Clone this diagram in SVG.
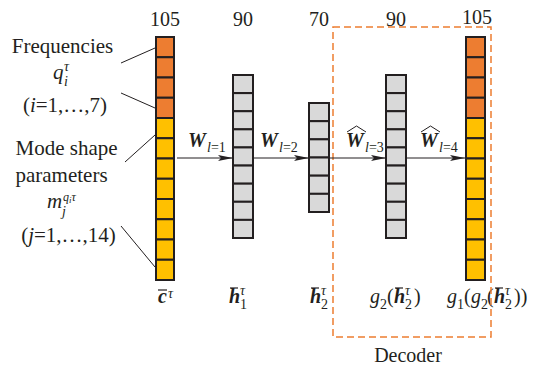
<svg xmlns="http://www.w3.org/2000/svg" width="537" height="368" viewBox="0 0 537 368">
<style>
text{fill:#231f20}
.t{font-size:20px}
.l{font-size:21px}
.it{font-style:italic}
.b{font-weight:bold;font-style:italic}
.s{font-size:14px}
.ss{font-size:12px}
.o{fill:#ED7D31;stroke:#231f20;stroke-width:2}
.y{fill:#FFC000;stroke:#231f20;stroke-width:2}
.g{fill:#D9D9D9;stroke:#231f20;stroke-width:2}
.ln{stroke:#231f20;stroke-width:1;fill:none}
.bar{stroke:#231f20;stroke-width:1.2}
</style>
<defs>
<marker id="ah" markerUnits="userSpaceOnUse" markerWidth="16" markerHeight="8" refX="15" refY="4" orient="auto">
<path d="M0,1 L15,4 L0,7 L3,4 Z" fill="#231f20"/>
</marker>
</defs>
<g font-family="Liberation Serif, DejaVu Serif, serif">
<g id="input-vector">
<rect class="o" x="156" y="37" width="18" height="20.25"/>
<rect class="o" x="156" y="57.25" width="18" height="20.25"/>
<rect class="o" x="156" y="77.5" width="18" height="20.25"/>
<rect class="o" x="156" y="97.75" width="18" height="20.25"/>
<rect class="y" x="156" y="118" width="18" height="20.25"/>
<rect class="y" x="156" y="138.25" width="18" height="20.25"/>
<rect class="y" x="156" y="158.5" width="18" height="20.25"/>
<rect class="y" x="156" y="178.75" width="18" height="20.25"/>
<rect class="y" x="156" y="199" width="18" height="20.25"/>
<rect class="y" x="156" y="219.25" width="18" height="20.25"/>
<rect class="y" x="156" y="239.5" width="18" height="20.25"/>
<rect class="y" x="156" y="259.75" width="18" height="20.25"/>
<text class="t" x="165" y="26" text-anchor="middle">105</text>
<text class="b t" x="158" y="303">c</text>
<line class="bar" x1="158" y1="290" x2="167" y2="290"/>
<text class="it s" x="168" y="298">τ</text>
</g>

<g id="h1">
<rect class="g" x="233" y="75" width="20" height="18.11"/>
<rect class="g" x="233" y="93.11" width="20" height="18.11"/>
<rect class="g" x="233" y="111.22" width="20" height="18.11"/>
<rect class="g" x="233" y="129.33" width="20" height="18.11"/>
<rect class="g" x="233" y="147.44" width="20" height="18.11"/>
<rect class="g" x="233" y="165.56" width="20" height="18.11"/>
<rect class="g" x="233" y="183.67" width="20" height="18.11"/>
<rect class="g" x="233" y="201.78" width="20" height="18.11"/>
<rect class="g" x="233" y="219.89" width="20" height="18.11"/>
<text class="t" x="243" y="26" text-anchor="middle">90</text>
<text class="b t" x="229" y="303">h</text>
<line class="bar" x1="230" y1="288" x2="238" y2="288"/>
<text class="s" x="240" y="309">1</text>
<text class="it s" x="240" y="295">τ</text>
</g>

<g id="h2">
<rect class="g" x="309" y="103" width="20" height="18.17"/>
<rect class="g" x="309" y="121.17" width="20" height="18.17"/>
<rect class="g" x="309" y="139.33" width="20" height="18.17"/>
<rect class="g" x="309" y="157.5" width="20" height="18.17"/>
<rect class="g" x="309" y="175.67" width="20" height="18.17"/>
<rect class="g" x="309" y="193.83" width="20" height="18.17"/>
<text class="t" x="319" y="26" text-anchor="middle">70</text>
<text class="b t" x="310" y="303">h</text>
<line class="bar" x1="311" y1="288" x2="319" y2="288"/>
<text class="s" x="321" y="309">2</text>
<text class="it s" x="321" y="295">τ</text>
</g>

<g id="g2">
<rect class="g" x="386" y="75" width="20" height="18.11"/>
<rect class="g" x="386" y="93.11" width="20" height="18.11"/>
<rect class="g" x="386" y="111.22" width="20" height="18.11"/>
<rect class="g" x="386" y="129.33" width="20" height="18.11"/>
<rect class="g" x="386" y="147.44" width="20" height="18.11"/>
<rect class="g" x="386" y="165.56" width="20" height="18.11"/>
<rect class="g" x="386" y="183.67" width="20" height="18.11"/>
<rect class="g" x="386" y="201.78" width="20" height="18.11"/>
<rect class="g" x="386" y="219.89" width="20" height="18.11"/>
<text class="t" x="396" y="26" text-anchor="middle">90</text>
<text class="it t" x="370" y="303">g</text>
<text class="s" x="380" y="309">2</text>
<text class="t" x="387" y="303">(</text>
<text class="b t" x="394" y="303">h</text>
<line class="bar" x1="395" y1="288" x2="403" y2="288"/>
<text class="s" x="405" y="309">2</text>
<text class="it s" x="405" y="295">τ</text>
<text class="t" x="414" y="303">)</text>
</g>

<g id="output-vector">
<rect class="o" x="466" y="37" width="19" height="20.25"/>
<rect class="o" x="466" y="57.25" width="19" height="20.25"/>
<rect class="o" x="466" y="77.5" width="19" height="20.25"/>
<rect class="o" x="466" y="97.75" width="19" height="20.25"/>
<rect class="y" x="466" y="118" width="19" height="20.25"/>
<rect class="y" x="466" y="138.25" width="19" height="20.25"/>
<rect class="y" x="466" y="158.5" width="19" height="20.25"/>
<rect class="y" x="466" y="178.75" width="19" height="20.25"/>
<rect class="y" x="466" y="199" width="19" height="20.25"/>
<rect class="y" x="466" y="219.25" width="19" height="20.25"/>
<rect class="y" x="466" y="239.5" width="19" height="20.25"/>
<rect class="y" x="466" y="259.75" width="19" height="20.25"/>
<text class="t" x="477" y="24" text-anchor="middle">105</text>
<text class="it t" x="447" y="303">g</text>
<text class="s" x="457" y="309">1</text>
<text class="t" x="464" y="303">(</text>
<text class="it t" x="471" y="303">g</text>
<text class="s" x="481" y="309">2</text>
<text class="t" x="487" y="303">(</text>
<text class="b t" x="494" y="303">h</text>
<line class="bar" x1="495" y1="288" x2="503" y2="288"/>
<text class="s" x="505" y="309">2</text>
<text class="it s" x="505" y="295">τ</text>
<text class="t" x="514" y="303">))</text>
</g>

<g id="decoder">
<rect x="333" y="27" width="158" height="310" fill="none" stroke="#ED7D31" stroke-width="1.5" stroke-dasharray="7,4"/>
<text class="t" x="408" y="362" text-anchor="middle">Decoder</text>
</g>

<g id="input-labels">
<text class="l" x="62.5" y="53" text-anchor="middle">Frequencies</text>
<text class="it l" x="53" y="79">q</text>
<text class="it s" x="64" y="86">i</text>
<text class="it s" x="64" y="71">τ</text>
<text class="l" x="65" y="112" text-anchor="middle">(<tspan class="it">i</tspan>=1,…,7)</text>
<text class="l" x="66.5" y="155" text-anchor="middle">Mode shape</text>
<text class="l" x="61.5" y="182" text-anchor="middle">parameters</text>
<text class="it l" x="47" y="208">m</text>
<text class="it s" x="62" y="216">j</text>
<text class="it ss" x="63" y="201">q<tspan dy="2" font-size="9">i</tspan><tspan dy="-2">τ</tspan></text>
<text class="l" x="68.5" y="242" text-anchor="middle">(<tspan class="it">j</tspan>=1,…,14)</text>
</g>

<g id="connectors">
<line class="ln" x1="121" y1="63" x2="155" y2="48"/>
<line class="ln" x1="121" y1="93" x2="155" y2="108"/>
<line class="ln" x1="125" y1="162" x2="155" y2="135"/>
<line class="ln" x1="121" y1="226" x2="155" y2="267"/>
<line class="ln" x1="177" y1="158" x2="233" y2="158" marker-end="url(#ah)"/>
<line class="ln" x1="253" y1="158" x2="309" y2="158" marker-end="url(#ah)"/>
<line class="ln" x1="329" y1="158" x2="386" y2="158" marker-end="url(#ah)"/>
<line class="ln" x1="406" y1="158" x2="465" y2="158" marker-end="url(#ah)"/>
</g>

<g id="weight-labels">
<text class="b t" x="188" y="147">W</text>
<text class="s" x="207" y="152"><tspan class="it">l</tspan>=1</text>
<text class="b t" x="260" y="147">W</text>
<text class="s" x="279" y="152"><tspan class="it">l</tspan>=2</text>
<text class="b t" x="346" y="147">W</text>
<path class="ln" d="M347,132 L356.5,126 L366,132"/>
<text class="s" x="365" y="152"><tspan class="it">l</tspan>=3</text>
<text class="b t" x="420" y="147">W</text>
<path class="ln" d="M421,132 L430.5,126 L440,132"/>
<text class="s" x="439" y="152"><tspan class="it">l</tspan>=4</text>
</g>
</g>
</svg>
